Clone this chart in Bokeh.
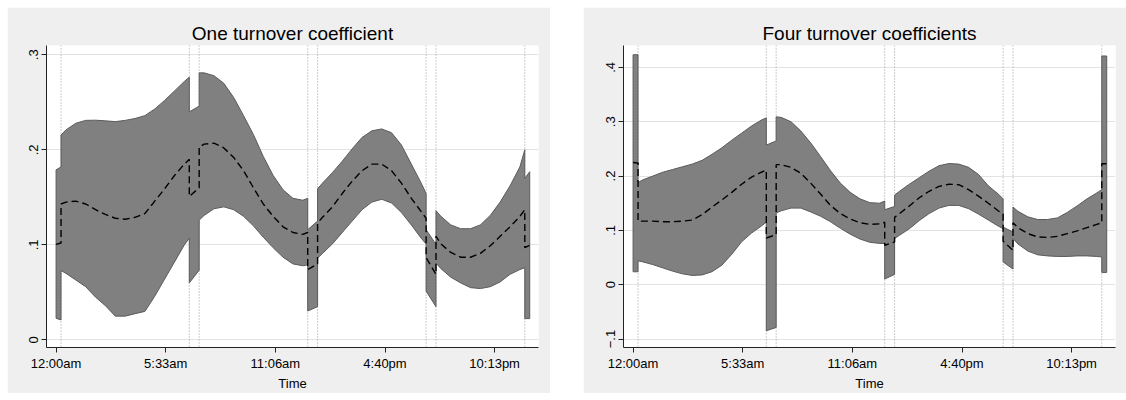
import numpy as np
from bokeh.plotting import figure
from bokeh.layouts import row
from bokeh.models import Range1d, FixedTicker, Span
from bokeh.embed import file_html
from bokeh.resources import INLINE

# time of day in hours (duplicated values mark the shift breakpoints)
hours = [0, 0.25,
         0.25, 0.5, 1, 1.5, 2, 2.5, 3, 3.5, 4, 4.5, 5, 5.5, 6, 6.5, 6.75,
         6.75, 7.25,
         7.25, 7.5, 8, 8.5, 9, 9.5, 10, 10.5, 11, 11.5, 12, 12.5, 12.75,
         12.75, 13.25,
         13.25, 13.5, 14, 14.5, 15, 15.5, 16, 16.5, 17, 17.5, 18, 18.5, 18.75,
         18.75, 19.25,
         19.25, 19.5, 20, 20.5, 21, 21.5, 22, 22.5, 23, 23.5, 23.75,
         23.75, 24]

breaks_hours = [0.25, 6.75, 7.25, 12.75, 13.25, 18.75, 19.25, 23.75]

# One turnover coefficient
one_upper = [0.179, 0.182,
             0.2155, 0.221, 0.228, 0.231, 0.2312, 0.2305, 0.2297, 0.231, 0.233, 0.236, 0.243, 0.252, 0.262, 0.272, 0.2765,
             0.240, 0.246,
             0.281, 0.281, 0.278, 0.270, 0.255, 0.236, 0.216, 0.193, 0.173, 0.158, 0.149, 0.147, 0.149,
             0.116, 0.125,
             0.159, 0.165, 0.176, 0.188, 0.201, 0.213, 0.220, 0.222, 0.218, 0.205, 0.185, 0.165, 0.154,
             0.116, 0.1005,
             0.136, 0.130, 0.121, 0.117, 0.117, 0.121, 0.131, 0.145, 0.162, 0.182, 0.200,
             0.170, 0.177]
one_mean = [0.1005, 0.102,
            0.143, 0.145, 0.146, 0.143, 0.137, 0.132, 0.128, 0.127, 0.129, 0.133, 0.146, 0.159, 0.173, 0.185, 0.190,
            0.151, 0.160,
            0.203, 0.206, 0.207, 0.202, 0.192, 0.178, 0.160, 0.143, 0.130, 0.119, 0.113, 0.111, 0.113,
            0.074, 0.080,
            0.123, 0.129, 0.140, 0.154, 0.167, 0.178, 0.185, 0.185, 0.178, 0.165, 0.149, 0.135, 0.128,
            0.0865, 0.069,
            0.109, 0.101, 0.092, 0.087, 0.087, 0.091, 0.099, 0.109, 0.119, 0.130, 0.137,
            0.097, 0.0995]
one_lower = [0.0227, 0.021,
             0.073, 0.070, 0.063, 0.056, 0.045, 0.036, 0.025, 0.025, 0.0276, 0.030, 0.046, 0.064, 0.082, 0.100, 0.107,
             0.060, 0.0733,
             0.126, 0.131, 0.138, 0.140, 0.137, 0.130, 0.120, 0.108, 0.097, 0.087, 0.080, 0.078, 0.079,
             0.0304, 0.035,
             0.086, 0.091, 0.101, 0.113, 0.125, 0.137, 0.145, 0.148, 0.144, 0.134, 0.121, 0.107, 0.101,
             0.0513, 0.035,
             0.081, 0.075, 0.066, 0.060, 0.055, 0.054, 0.056, 0.061, 0.069, 0.074, 0.076,
             0.0224, 0.0224]

# Four turnover coefficients
four_upper = [0.4233, 0.4233,
              0.188, 0.193, 0.200, 0.207, 0.212, 0.217, 0.222, 0.229, 0.240, 0.252, 0.266, 0.279, 0.292, 0.303, 0.307,
              0.257, 0.2646,
              0.309, 0.308, 0.300, 0.283, 0.261, 0.236, 0.210, 0.187, 0.170, 0.158, 0.151, 0.150, 0.154,
              0.138, 0.144,
              0.165, 0.172, 0.185, 0.197, 0.209, 0.219, 0.223, 0.222, 0.216, 0.203, 0.182, 0.167, 0.158,
              0.106, 0.097,
              0.143, 0.135, 0.125, 0.120, 0.120, 0.123, 0.133, 0.145, 0.158, 0.169, 0.175,
              0.421, 0.421]
four_mean = [0.225, 0.224,
             0.117, 0.117, 0.117, 0.116, 0.116, 0.117, 0.119, 0.129, 0.143, 0.156, 0.170, 0.185, 0.198, 0.207, 0.211,
             0.086, 0.092,
             0.221, 0.221, 0.216, 0.205, 0.187, 0.167, 0.146, 0.131, 0.121, 0.114, 0.111, 0.112, 0.115,
             0.0726, 0.0787,
             0.124, 0.131, 0.145, 0.160, 0.172, 0.181, 0.185, 0.184, 0.175, 0.163, 0.150, 0.136, 0.130,
             0.080, 0.0634,
             0.114, 0.105, 0.094, 0.088, 0.087, 0.089, 0.094, 0.099, 0.105, 0.111, 0.114,
             0.2226, 0.2226]
four_lower = [0.0238, 0.0238,
              0.044, 0.042, 0.037, 0.031, 0.025, 0.020, 0.017, 0.018, 0.024, 0.036, 0.056, 0.079, 0.095, 0.108, 0.115,
              -0.0848, -0.0787,
              0.132, 0.136, 0.141, 0.141, 0.134, 0.126, 0.116, 0.104, 0.093, 0.084, 0.078, 0.076, 0.076,
              0.0104, 0.0189,
              0.085, 0.091, 0.103, 0.118, 0.131, 0.141, 0.146, 0.146, 0.140, 0.130, 0.119, 0.108, 0.103,
              0.042, 0.0287,
              0.085, 0.075, 0.062, 0.055, 0.053, 0.052, 0.052, 0.053, 0.053, 0.052, 0.051,
              0.0226, 0.0226]

x_ticks = [0, 20000, 40000, 60000, 80000]          # seconds after midnight
x_labels = ["12:00am", "5:33am", "11:06am", "4:40pm", "10:13pm"]
one_yticks = [0, 0.1, 0.2, 0.3]
one_ylabels = ["0", ".1", ".2", ".3"]
four_yticks = [-0.1, 0, 0.1, 0.2, 0.3, 0.4]
four_ylabels = ["\u2212.1", "0", ".1", ".2", ".3", ".4"]

FONT = "Liberation Sans"
BG = "#efefef"


def panel(title, upper, mean, lower, yr, yticks, ylabels, bl, br):
    x = np.array(hours) * 3600.0
    p = figure(width=543, height=386, output_backend="svg", toolbar_location=None,
               x_range=Range1d(-1750, 88000), y_range=Range1d(*yr),
               min_border_left=bl, min_border_right=br, min_border_top=38, min_border_bottom=45)
    p.border_fill_color = BG
    p.background_fill_color = "white"
    p.outline_line_color = None
    p.xgrid.visible = False
    p.ygrid.grid_line_color = "#e3e3e3"
    p.ygrid.grid_line_width = 1

    for b in breaks_hours:
        p.add_layout(Span(location=b * 3600.0, dimension="height", line_color="#9a9a9a",
                          line_width=1, line_dash="1 2", level="underlay"))

    xs = np.concatenate([x, x[::-1]])
    ys = np.concatenate([np.array(upper), np.array(lower)[::-1]])
    p.patch(xs, ys, fill_color="#808080", line_color="#5a5a5a", line_width=1)
    p.line(x, mean, line_color="black", line_width=1.4, line_dash="7 4")

    p.title.text = title
    p.title.align = "center"
    p.title.text_font = FONT
    p.title.text_font_size = "19px"
    p.title.text_font_style = "normal"
    p.title.text_color = "black"
    p.title.standoff = 4

    xa = p.xaxis[0]
    xa.ticker = FixedTicker(ticks=x_ticks)
    xa.major_label_overrides = {t: l for t, l in zip(x_ticks, x_labels)}
    xa.axis_label = "Time"
    ya = p.yaxis[0]
    ya.ticker = FixedTicker(ticks=yticks)
    ya.major_label_overrides = {t: l for t, l in zip(yticks, ylabels)}
    ya.major_label_orientation = "vertical"
    for ax in (xa, ya):
        ax.axis_line_color = "#222222"
        ax.major_tick_line_color = "#222222"
        ax.major_tick_out = 5
        ax.major_tick_in = 0
        ax.minor_tick_line_color = None
        ax.major_label_text_font = FONT
        ax.major_label_text_font_size = "13px"
        ax.major_label_text_color = "black"
        ax.major_label_standoff = 3
        ax.axis_label_text_font = FONT
        ax.axis_label_text_font_size = "13px"
        ax.axis_label_text_font_style = "normal"
        ax.axis_label_text_color = "black"
        ax.axis_label_standoff = 2
    return p


p1 = panel("One turnover coefficient", one_upper, one_mean, one_lower,
           (-0.008, 0.3098), one_yticks, one_ylabels, 39, 12)
p2 = panel("Four turnover coefficients", four_upper, four_mean, four_lower,
           (-0.1156, 0.4403), four_yticks, four_ylabels, 40, 11)
p1.margin = (7, 0, 7, 7)
p2.margin = (7, 0, 7, 33)

layout = row(p1, p2)
open("out.html", "w").write(file_html(layout, INLINE))
